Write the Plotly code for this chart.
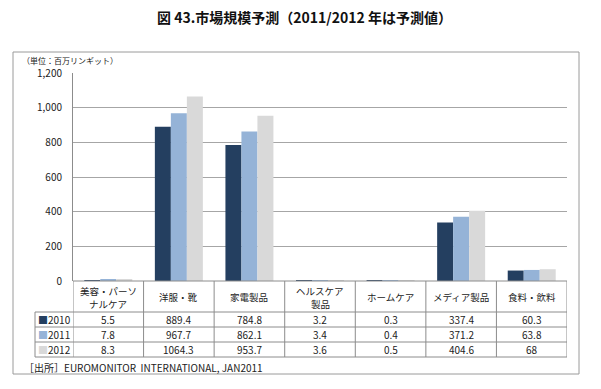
import plotly.graph_objects as go

categories = ["美容・パーソ<br>ナルケア", "洋服・靴", "家電製品", "ヘルスケア<br>製品", "ホームケア", "メディア製品", "食料・飲料"]
years = ["2010", "2011", "2012"]
v2010 = [5.5, 889.4, 784.8, 3.2, 0.3, 337.4, 60.3]
v2011 = [7.8, 967.7, 862.1, 3.4, 0.4, 371.2, 63.8]
v2012 = [8.3, 1064.3, 953.7, 3.6, 0.5, 404.6, 68]
series = [v2010, v2011, v2012]
colors = ["#243F60", "#95B3D7", "#D9D9D9"]
yticks = [0, 200, 400, 600, 800, 1000, 1200]

FONT = "Noto Sans CJK JP"
OFF = 8  # page body margin offset
W, H = 601 - OFF, 389 - OFF
L, R, T, B = 73 - OFF, 567 - OFF, 73 - OFF, 281 - OFF
pw, ph = R - L, B - T

def px(x):
    return (x - OFF - L) / pw

def py(y):
    return (B - (y - OFF)) / ph

xs = list(range(len(categories)))
fig = go.Figure()
for name, vals, c in zip(years, series, colors):
    fig.add_trace(go.Bar(x=xs, y=vals, name=name, marker_color=c, marker_line_width=0))

shapes = []
ann = []
line_c = "#8C8C8C"
shapes.append(dict(type="rect", xref="paper", yref="paper", x0=px(13), x1=px(579), y0=py(374), y1=py(52),
                   line=dict(color="#9A9A9A", width=1), layer="below"))
row_lines = [312, 327, 342, 357]
for yy in row_lines:
    shapes.append(dict(type="line", xref="paper", yref="paper", x0=px(35), x1=1, y0=py(yy), y1=py(yy),
                       line=dict(color=line_c, width=1)))
shapes.append(dict(type="line", xref="paper", yref="paper", x0=0, x1=1, y0=0, y1=0,
                   line=dict(color=line_c, width=1)))
for k in range(len(categories) + 1):
    shapes.append(dict(type="line", xref="x", yref="paper", x0=k - 0.5, x1=k - 0.5, y0=py(357), y1=0,
                       line=dict(color=line_c, width=1)))
shapes.append(dict(type="line", xref="paper", yref="paper", x0=px(35), x1=px(35), y0=py(357), y1=py(312),
                   line=dict(color=line_c, width=1)))

tf = dict(family=FONT, size=10, color="#222222")
hf = dict(family=FONT, size=9.5, color="#222222")
for i, c in enumerate(categories):
    parts = c.split("<br>")
    if len(parts) == 1:
        ys = [297]
    else:
        ys = [290.5, 303.5]
    for part, yy in zip(parts, ys):
        ann.append(dict(x=i, y=py(yy), xref="x", yref="paper", text=part, showarrow=False, font=hf,
                        xanchor="center", yanchor="middle"))
row_centers = [319.5, 334.5, 349.5]
for name, vals, col, yc in zip(years, series, colors, row_centers):
    ann.append(dict(x=px(36), y=py(yc), xref="paper", yref="paper",
                    text=f'<span style="color:{col}">■</span>{name}', showarrow=False,
                    font=tf, xanchor="left", yanchor="middle"))
    for i, v in enumerate(vals):
        ann.append(dict(x=i, y=py(yc), xref="x", yref="paper", text=f"{v:g}", showarrow=False,
                        font=tf, xanchor="center", yanchor="middle"))

ann.append(dict(x=px(20), y=py(60), xref="paper", yref="paper", text="（単位：百万リンギット）",
                showarrow=False, font=dict(family=FONT, size=8, color="#222222"), xanchor="left", yanchor="middle"))
ann.append(dict(x=px(22), y=py(367), xref="paper", yref="paper", text="［出所］EUROMONITOR  INTERNATIONAL, JAN2011",
                showarrow=False, font=dict(family=FONT, size=10, color="#222222"), xanchor="left", yanchor="middle"))

fig.update_layout(
    width=W, height=H,
    margin=dict(l=L, r=W - R, t=T, b=H - B, pad=0),
    paper_bgcolor="white", plot_bgcolor="white",
    barmode="group", bargap=0.32, bargroupgap=0,
    showlegend=False,
    title=dict(text="<b>図 43.市場規模予測（2011/2012 年は予測値）</b>", x=0.5, xanchor="center",
               y=1 - (18 - OFF) / H, yanchor="middle", font=dict(family=FONT, size=14, color="#111111")),
    xaxis=dict(range=[-0.5, len(categories) - 0.5], showticklabels=False, showgrid=False, zeroline=False,
               showline=False, fixedrange=True),
    yaxis=dict(range=[0, 1200], tickvals=yticks, tickformat=",", showgrid=True, gridcolor="#A6A6A6",
               gridwidth=1, zeroline=False, showline=True, linecolor="#8C8C8C", linewidth=1,
               ticks="", tickfont=dict(family=FONT, size=10, color="#222222"), ticklabelstandoff=8),
    shapes=shapes, annotations=ann,
)
fig.write_html("out.html")
